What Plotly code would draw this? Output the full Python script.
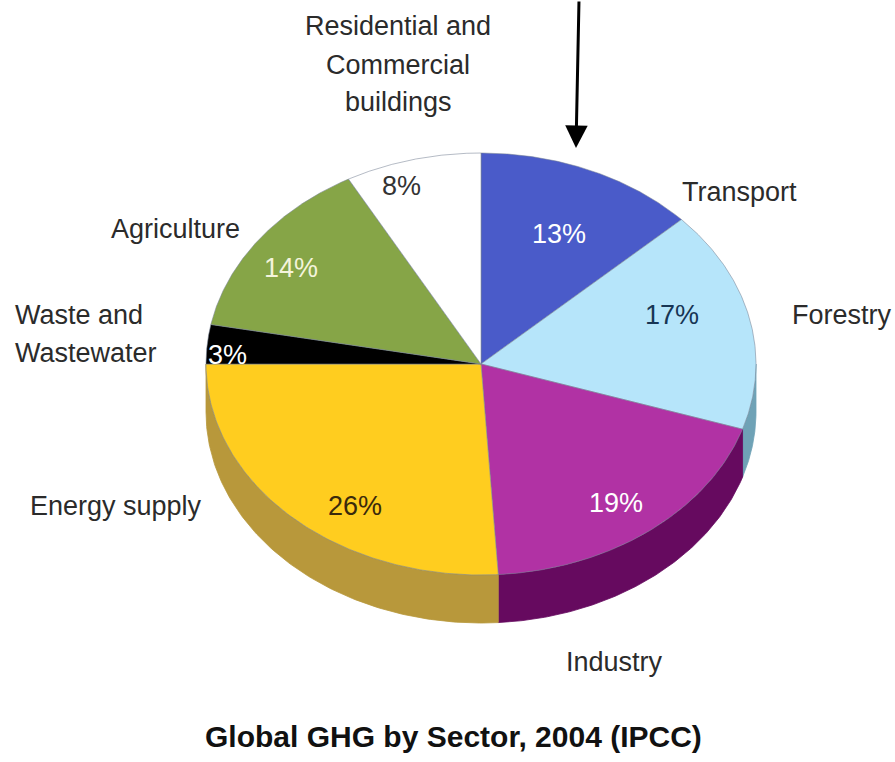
import numpy as np
import plotly.graph_objects as go

# Global greenhouse-gas emissions by sector, 2004 (IPCC), clockwise from 12 o'clock
sectors = ["Transport", "Forestry", "Industry", "Energy supply",
           "Waste and Wastewater", "Agriculture",
           "Residential and Commercial buildings"]
shares = [13, 17, 19, 26, 3, 14, 8]

# Styling for each slice (same order as sectors)
top_colors = ["#4a5bc9", "#b6e5fa", "#b132a4", "#ffcd1f", "#000000", "#86a547", "#ffffff"]
side_colors = ["#2f3c8c", "#6fa2b6", "#660a5f", "#b8983b", "#111111", "#5d7430", "#c9d3d9"]
pct_colors = ["#ffffff", "#173554", "#ffffff", "#3a2a0c", "#ffffff", "#f4f4dc", "#333333"]

# Where each percentage label sits on the top face
pct_pos = [(559, 234), (672, 315), (616, 503), (355, 506), (227, 355), (291, 268), (401, 186)]

# Sector name labels: (text line, x, y, x-anchor)
name_lines = [
    ("Residential and", 398, 26, "center"),
    ("Commercial", 398, 65, "center"),
    ("buildings", 398, 102, "center"),
    ("Transport", 739, 192, "center"),
    ("Forestry", 842, 315, "center"),
    ("Agriculture", 175, 229, "center"),
    ("Waste and", 13, 315, "left"),
    ("Wastewater", 13, 353, "left"),
    ("Energy supply", 116, 506, "center"),
    ("Industry", 614, 662, "center"),
]

# Geometry of the tilted disc (pixel space)
CX, CY, RX, RY, DEPTH = 481, 364, 275, 211, 48
LABEL_FONT = "Liberation Sans, Arial, sans-serif"
LABEL_SIZE = 27


def rim(t_deg, drop=0.0):
    t = np.radians(t_deg)
    return CX + RX * np.sin(t), CY - RY * np.cos(t) + drop


fig = go.Figure()

# slice boundaries in degrees, clockwise from the top
bounds = np.concatenate([[0], np.cumsum(shares)]) / sum(shares) * 360.0

# side walls: only the front half (90..270 deg) faces the viewer
for i in range(len(shares)):
    a0, a1 = max(bounds[i], 90.0), min(bounds[i + 1], 270.0)
    if a1 <= a0:
        continue
    t = np.linspace(a0, a1, 120)
    xt, yt = rim(t)
    xb, yb = rim(t[::-1], DEPTH)
    fig.add_trace(go.Scatter(
        x=np.concatenate([xt, xb, xt[:1]]), y=np.concatenate([yt, yb, yt[:1]]),
        mode="lines", fill="toself", fillcolor=side_colors[i],
        line=dict(color=side_colors[i], width=0.8), hoverinfo="skip", showlegend=False))

# top faces
for i in range(len(shares)):
    t = np.linspace(bounds[i], bounds[i + 1], 160)
    xa, ya = rim(t)
    fig.add_trace(go.Scatter(
        x=np.concatenate([[CX], xa, [CX]]), y=np.concatenate([[CY], ya, [CY]]),
        mode="lines", fill="toself", fillcolor=top_colors[i],
        line=dict(color="rgba(120,132,150,0.55)", width=1),
        hoverinfo="skip", showlegend=False))

annotations = []
for v, (px, py), c in zip(shares, pct_pos, pct_colors):
    annotations.append(dict(x=px, y=py, xref="x", yref="y", text=f"{v}%",
                            showarrow=False, xanchor="center", yanchor="middle",
                            font=dict(family=LABEL_FONT, size=LABEL_SIZE, color=c)))
for txt, px, py, anc in name_lines:
    annotations.append(dict(x=px, y=py, xref="x", yref="y", text=txt,
                            showarrow=False, xanchor=anc, yanchor="middle",
                            font=dict(family=LABEL_FONT, size=LABEL_SIZE, color="#2b2b2b")))

# pointer arrow from the top edge down towards the Transport slice
annotations.append(dict(x=576, y=148, xref="x", yref="y", ax=579, ay=0,
                        axref="x", ayref="y", text="", showarrow=True,
                        arrowhead=2, arrowsize=1.5, arrowwidth=3, arrowcolor="#000000",
                        standoff=0))

# title
annotations.append(dict(x=453, y=736, xref="x", yref="y",
                        text="<b>Global GHG by Sector, 2004 (IPCC)</b>",
                        showarrow=False, xanchor="center", yanchor="middle",
                        font=dict(family="Liberation Sans, Arial, sans-serif", size=30,
                                  color="#111111")))

fig.update_layout(
    width=895, height=762,
    margin=dict(l=0, r=0, t=0, b=0),
    paper_bgcolor="white", plot_bgcolor="white",
    xaxis=dict(range=[0, 895], visible=False, fixedrange=True),
    yaxis=dict(range=[762, 0], visible=False, fixedrange=True),
    annotations=annotations,
    showlegend=False,
)

fig.write_html("out.html")
